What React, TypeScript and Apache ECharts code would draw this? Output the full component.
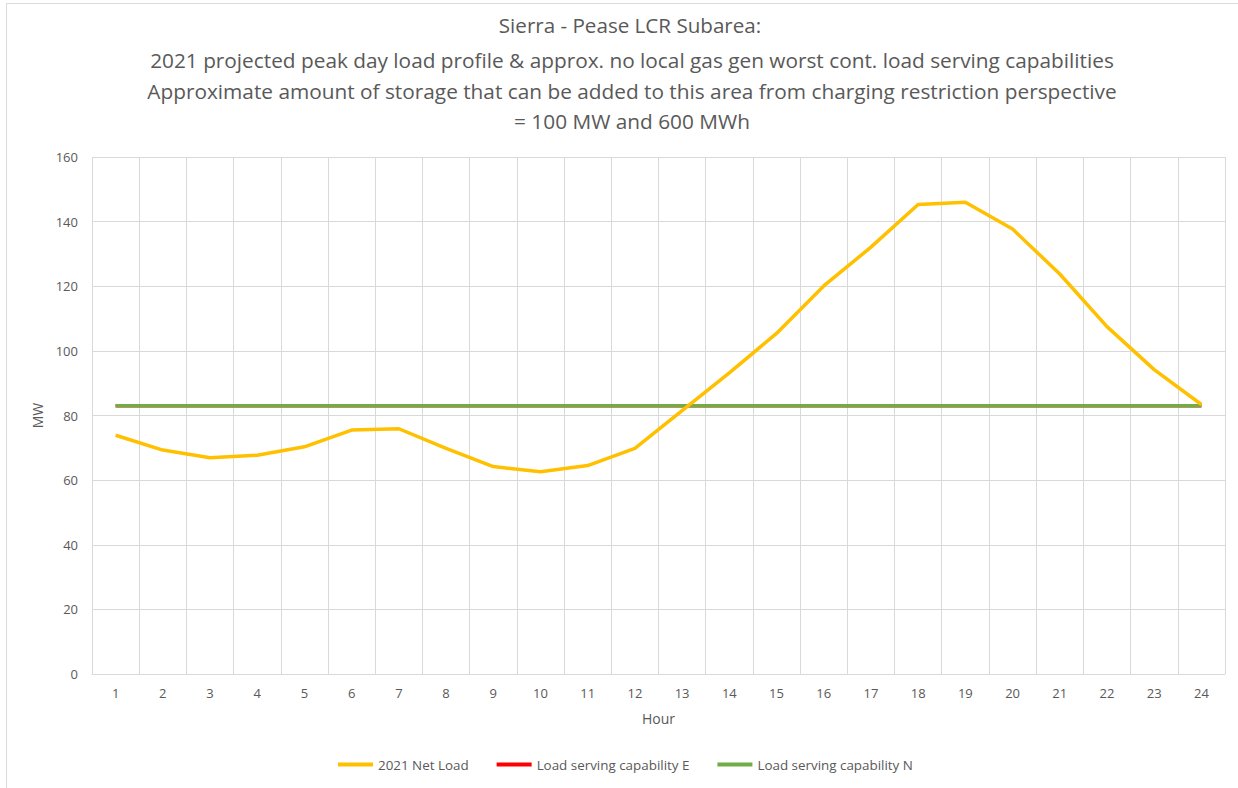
import React, { useEffect, useRef } from "react";
import * as echarts from "echarts";

const hours = ["1","2","3","4","5","6","7","8","9","10","11","12","13","14","15","16","17","18","19","20","21","22","23","24"];
const netLoad = [73.9, 69.3, 66.9, 67.7, 70.3, 75.5, 75.9, 69.8, 64.2, 62.6, 64.5, 69.8, 81.5, 93.2, 105.4, 120.1, 132.1, 145.3, 146.0, 137.7, 123.8, 107.5, 94.2, 83.4];
const capE = [83, 83, 83, 83, 83, 83, 83, 83, 83, 83, 83, 83, 83, 83, 83, 83, 83, 83, 83, 83, 83, 83, 83, 83];
const capN = [83, 83, 83, 83, 83, 83, 83, 83, 83, 83, 83, 83, 83, 83, 83, 83, 83, 83, 83, 83, 83, 83, 83, 83];
const titleLine1 = "Sierra - Pease LCR Subarea:";
const titleRest = "2021 projected peak day load profile & approx. no local gas gen worst cont. load serving capabilities\nApproximate amount of storage that can be added to this area from charging restriction perspective\n= 100 MW and 600 MWh";

const FONT = "'Open Sans', 'Noto Sans', sans-serif";
const TXT = "#595959";
const GRID = "#d9d9d9";

export default function App() {
  const ref = useRef<HTMLDivElement>(null);
  useEffect(() => {
    if (!ref.current) return;
    const chart = echarts.init(ref.current, undefined, { renderer: "svg" });
    chart.setOption({
      animation: false,
      backgroundColor: "#fff",
      textStyle: { fontFamily: FONT },
      title: [
        {
          text: titleLine1,
          left: 625,
          textAlign: "center",
          top: 9,
          textStyle: { fontFamily: FONT, fontSize: 20.6, fontWeight: "normal", color: TXT },
        },
        {
          text: titleRest,
          left: 627,
          textAlign: "center",
          top: 40,
          textStyle: { fontFamily: FONT, fontSize: 20.8, fontWeight: "normal", color: TXT, lineHeight: 30.5 },
        },
      ],
      legend: {
        bottom: 12,
        left: 333,
        itemWidth: 35,
        itemHeight: 4,
        itemGap: 28,
        icon: "rect",
        textStyle: { fontFamily: FONT, fontSize: 13.4, color: TXT },
        data: ["2021 Net Load", "Load serving capability E", "Load serving capability N"],
      },
      grid: { left: 92, top: 157, width: 1133, height: 517, containLabel: false },
      xAxis: {
        type: "category",
        data: hours,
        boundaryGap: true,
        name: "Hour",
        nameLocation: "middle",
        nameGap: 37,
        nameTextStyle: { fontFamily: FONT, fontSize: 14, color: TXT },
        axisLine: { show: true, lineStyle: { color: GRID, width: 1 } },
        axisTick: { show: false },
        axisLabel: { fontFamily: FONT, fontSize: 13, color: TXT, margin: 12 },
        splitLine: { show: true, lineStyle: { color: GRID, width: 1 } },
      },
      yAxis: {
        type: "value",
        min: 0,
        max: 160,
        interval: 20,
        name: "MW",
        nameLocation: "middle",
        nameGap: 45,
        nameRotate: 90,
        nameTextStyle: { fontFamily: FONT, fontSize: 14, color: TXT },
        axisLine: { show: false },
        axisTick: { show: false },
        axisLabel: { fontFamily: FONT, fontSize: 13, color: TXT, margin: 14 },
        splitLine: { show: true, lineStyle: { color: GRID, width: 1 } },
      },
      series: [
        {
          name: "2021 Net Load",
          type: "line",
          data: netLoad,
          symbol: "none",
          itemStyle: { color: "#FFC000" },
          lineStyle: { color: "#FFC000", width: 3.5 },
          z: 3,
        },
        {
          name: "Load serving capability E",
          type: "line",
          data: capE,
          symbol: "none",
          itemStyle: { color: "#FF0000" },
          lineStyle: { color: "#FF0000", width: 3.5 },
          z: 1,
        },
        {
          name: "Load serving capability N",
          type: "line",
          data: capN,
          symbol: "none",
          itemStyle: { color: "#70AD47" },
          lineStyle: { color: "#70AD47", width: 3.5 },
          z: 2,
        },
      ],
      graphic: [
        { type: "line", shape: { x1: 6.5, y1: 3.5, x2: 6.5, y2: 788 }, style: { stroke: GRID, lineWidth: 1 } },
        { type: "line", shape: { x1: 6.5, y1: 3.5, x2: 1238, y2: 3.5 }, style: { stroke: GRID, lineWidth: 1 } },
      ],
    });
    return () => chart.dispose();
  }, []);
  return (
    <div
      ref={ref}
      style={{ position: "fixed", left: 0, top: 0, width: 1238, height: 788, background: "#fff" }}
    />
  );
}
